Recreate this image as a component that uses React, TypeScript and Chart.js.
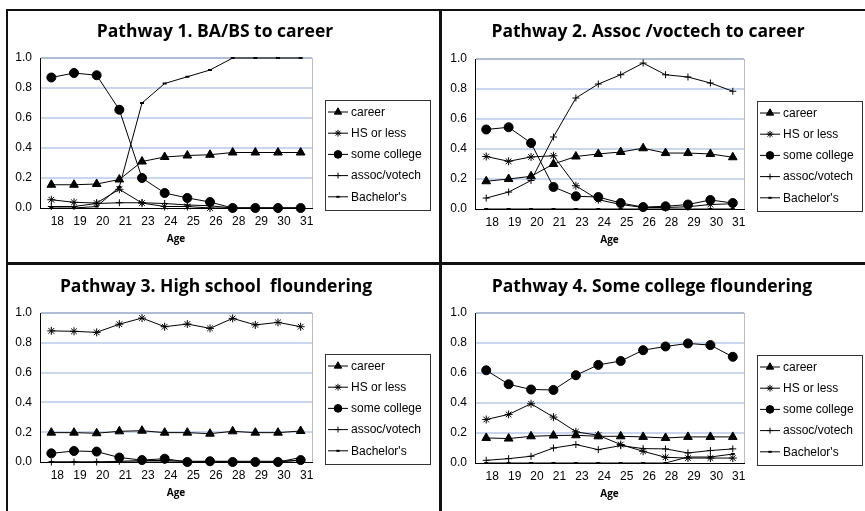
import React, { useEffect, useRef } from 'react';
import { Chart, registerables } from 'chart.js';
import { drawPoint } from 'chart.js/helpers';

Chart.register(...registerables);

// ---------- data ----------
const ageLabels = ['18', '19', '20', '21', '23', '24', '25', '26', '28', '29', '30', '31'];
const yTicks = [0, 0.2, 0.4, 0.6, 0.8, 1.0];
const seriesNames = ['career', 'HS or less', 'some college', 'assoc/votech', "Bachelor's"];

const p1Career = [0.155, 0.155, 0.16, 0.19, 0.31, 0.34, 0.35, 0.355, 0.37, 0.37, 0.37, 0.37];
const p1HS = [0.055, 0.038, 0.033, 0.125, 0.033, 0.01, 0.01, 0.0, 0, 0, 0, 0];
const p1Some = [0.87, 0.9, 0.885, 0.655, 0.2, 0.1, 0.067, 0.04, 0, 0, 0, 0];
const p1Assoc = [0.01, 0.01, 0.03, 0.035, 0.035, 0.03, 0.02, 0.015, 0, 0, 0, 0];
const p1Bach = [0.0, 0.0, 0.01, 0.14, 0.7, 0.83, 0.875, 0.92, 1.0, 1.0, 1.0, 1.0];

const p2Career = [0.185, 0.2, 0.218, 0.3, 0.35, 0.367, 0.38, 0.405, 0.373, 0.373, 0.367, 0.345];
const p2HS = [0.35, 0.318, 0.347, 0.355, 0.155, 0.062, 0.03, 0.01, 0.01, 0.015, 0.03, 0.035];
const p2Some = [0.53, 0.545, 0.44, 0.147, 0.085, 0.08, 0.04, 0.013, 0.018, 0.03, 0.06, 0.04];
const p2Assoc = [0.073, 0.113, 0.19, 0.48, 0.74, 0.833, 0.895, 0.973, 0.895, 0.88, 0.84, 0.785];
const p2Bach = [0, 0, 0, 0, 0, 0, 0, 0, 0, 0, 0, 0];

const p3Career = [0.197, 0.197, 0.193, 0.206, 0.21, 0.197, 0.197, 0.19, 0.206, 0.197, 0.197, 0.208];
const p3HS = [0.88, 0.877, 0.87, 0.925, 0.966, 0.908, 0.926, 0.897, 0.964, 0.92, 0.937, 0.908];
const p3Some = [0.058, 0.074, 0.07, 0.03, 0.013, 0.022, 0.0, 0.005, 0, 0, 0, 0.013];
const p3Assoc = [0, 0, 0, 0.005, 0.01, 0.01, 0.005, 0.005, 0.005, 0.005, 0.005, 0.01];
const p3Bach = [0, 0, 0, 0, 0, 0, 0, 0, 0, 0, 0, 0.03];

const p4Career = [0.167, 0.163, 0.178, 0.183, 0.185, 0.178, 0.178, 0.174, 0.167, 0.174, 0.174, 0.174];
const p4HS = [0.29, 0.324, 0.395, 0.306, 0.208, 0.185, 0.123, 0.078, 0.038, 0.033, 0.033, 0.033];
const p4Some = [0.618, 0.525, 0.49, 0.487, 0.585, 0.654, 0.68, 0.752, 0.777, 0.797, 0.786, 0.708];
const p4Assoc = [0.018, 0.029, 0.045, 0.1, 0.123, 0.089, 0.116, 0.096, 0.094, 0.067, 0.083, 0.094];
const p4Bach = [0, 0, 0, 0, 0, 0, 0, 0, 0, 0.04, 0.04, 0.06];

// ---------- styles ----------
const markerStyles = [
  { pointStyle: 'triangle', radius: 5, fill: true },
  { pointStyle: 'star', radius: 4, fill: false },
  { pointStyle: 'circle', radius: 4.5, fill: true },
  { pointStyle: 'cross', radius: 3.5, fill: false },
  { pointStyle: 'line', radius: 2, fill: false, bw: 2 },
];

const panels = [
  { title: 'Pathway 1. BA/BS to career', series: [p1Career, p1HS, p1Some, p1Assoc, p1Bach],
    left: 9, top: 12, w: 430, h: 250, plotL: 31, plotT: 46, plotR: 303, plotB: 196, titleX: 206, titleY: 20 },
  { title: 'Pathway 2. Assoc /voctech to career', series: [p2Career, p2HS, p2Some, p2Assoc, p2Bach],
    left: 442, top: 12, w: 423, h: 250, plotL: 33, plotT: 47, plotR: 302, plotB: 197, titleX: 206, titleY: 20 },
  { title: 'Pathway 3. High school  floundering', series: [p3Career, p3HS, p3Some, p3Assoc, p3Bach],
    left: 9, top: 265, w: 430, h: 246, plotL: 31, plotT: 48, plotR: 303, plotB: 197, titleX: 207, titleY: 22 },
  { title: 'Pathway 4. Some college floundering', series: [p4Career, p4HS, p4Some, p4Assoc, p4Bach],
    left: 442, top: 265, w: 423, h: 246, plotL: 33, plotT: 48, plotR: 302, plotB: 198, titleX: 210, titleY: 22 },
];

const tickFont = { family: "'Liberation Sans', Arial, sans-serif", size: 12 };

function makeDecor(cfg: any) {
  return {
    id: 'decor',
    beforeDatasetsDraw(chart: any) {
      const { ctx, chartArea } = chart;
      ctx.save();
      ctx.strokeStyle = '#bdbdbd';
      ctx.lineWidth = 1;
      ctx.beginPath();
      ctx.moveTo(Math.round(chartArea.right) + 0.5, chartArea.top);
      ctx.lineTo(Math.round(chartArea.right) + 0.5, chartArea.bottom);
      ctx.stroke();
      ctx.restore();
    },
    afterDraw(chart: any) {
      const { ctx, chartArea } = chart;
      ctx.save();
      // title
      ctx.fillStyle = '#000';
      ctx.font = "bold 17.5px 'Open Sans', Lato, sans-serif";
      ctx.textAlign = 'center';
      ctx.textBaseline = 'middle';
      ctx.fillText(cfg.title, cfg.titleX, cfg.titleY);
      // legend box
      const bx = Math.round(chartArea.right) + 13;
      const by = Math.round(chartArea.bottom) - 108;
      const bw = 105;
      const bh = 110;
      ctx.strokeStyle = '#333';
      ctx.lineWidth = 1;
      ctx.strokeRect(bx + 0.5, by + 0.5, bw, bh);
      ctx.font = "12px 'Liberation Sans', Arial, sans-serif";
      ctx.textAlign = 'left';
      seriesNames.forEach((name, i) => {
        const y = by + 12 + i * 21.2;
        ctx.strokeStyle = '#000';
        ctx.lineWidth = 1;
        ctx.beginPath();
        ctx.moveTo(bx + 3, y);
        ctx.lineTo(bx + 23, y);
        ctx.stroke();
        const m = markerStyles[i];
        ctx.fillStyle = '#000';
        ctx.strokeStyle = '#000';
        ctx.lineWidth = m.bw || 1;
        drawPoint(ctx, { pointStyle: m.pointStyle, radius: m.radius * 0.85, rotation: 0, borderWidth: m.bw || 1 } as any, bx + 13, y);
        ctx.fillStyle = '#000';
        ctx.fillText(name, bx + 26, y + 0.5);
      });
      ctx.restore();
    },
  };
}

function Panel({ cfg }: { cfg: any }) {
  const ref = useRef<HTMLCanvasElement>(null);
  useEffect(() => {
    const datasets = cfg.series.map((vals: number[], i: number) => {
      const m = markerStyles[i];
      return {
        label: seriesNames[i],
        data: vals,
        borderColor: '#000',
        borderWidth: 1,
        backgroundColor: '#000',
        pointStyle: m.pointStyle,
        pointRadius: m.radius,
        pointBackgroundColor: '#000',
        pointBorderColor: '#000',
        pointBorderWidth: m.bw || 1,
        tension: 0,
        fill: false,
        clip: false,
      };
    });
    const chart = new Chart(ref.current as HTMLCanvasElement, {
      type: 'line',
      data: { labels: ageLabels, datasets },
      options: {
        responsive: false,
        animation: false,
        devicePixelRatio: 1,
        events: [],
        layout: { padding: { left: 0, top: cfg.plotT, right: cfg.w - cfg.plotR, bottom: 0 } },
        plugins: {
          legend: { display: false },
          tooltip: { enabled: false },
          title: { display: false },
        },
        scales: {
          x: {
            type: 'category',
            offset: true,
            grid: { display: false, drawTicks: false },
            border: { display: true, color: '#000', width: 1 },
            ticks: { font: tickFont, color: '#000', padding: 6, labelOffset: 6, autoSkip: false, maxRotation: 0 },
            title: {
              display: true,
              text: 'Age',
              color: '#000',
              font: { family: "'Open Sans', Lato, sans-serif", weight: 'bold', size: 10 },
              padding: { top: 0, bottom: cfg.h - cfg.plotB - 31 - 6 },
            },
            afterFit: (s: any) => { s.height = cfg.h - cfg.plotB; },
          },
          y: {
            min: 0,
            max: 1,
            afterBuildTicks: (s: any) => { s.ticks = yTicks.map((v) => ({ value: v })); },
            afterFit: (s: any) => { s.width = cfg.plotL; },
            grid: {
              drawTicks: false,
              lineWidth: 2,
              color: (c: any) => (c.tick && c.tick.value === 0 ? 'rgba(0,0,0,0)' : c.tick && c.tick.value === 1 ? '#aebdd4' : '#c8d6ee'),
            },
            border: { display: true, color: '#000', width: 1 },
            ticks: { font: tickFont, color: '#000', padding: 8, callback: (v: any) => Number(v).toFixed(1) },
          },
        },
      } as any,
      plugins: [makeDecor(cfg)],
    });
    return () => chart.destroy();
  }, []);
  return (
    <canvas
      ref={ref}
      width={cfg.w}
      height={cfg.h}
      style={{ position: 'absolute', left: cfg.left, top: cfg.top, width: cfg.w, height: cfg.h }}
    />
  );
}

export default function App() {
  const line = (s: React.CSSProperties) => <div style={{ position: 'absolute', background: '#111', ...s }} />;
  return (
    <div style={{ position: 'fixed', left: 0, top: 0, width: 865, height: 511, background: '#fff', overflow: 'hidden' }}>
      {panels.map((p, i) => <Panel key={i} cfg={p} />)}
      {line({ left: 6, top: 9, width: 859, height: 2 })}
      {line({ left: 6, top: 9, width: 2, height: 502 })}
      {line({ left: 439, top: 9, width: 3, height: 502 })}
      {line({ left: 6, top: 262, width: 859, height: 3 })}
    </div>
  );
}
